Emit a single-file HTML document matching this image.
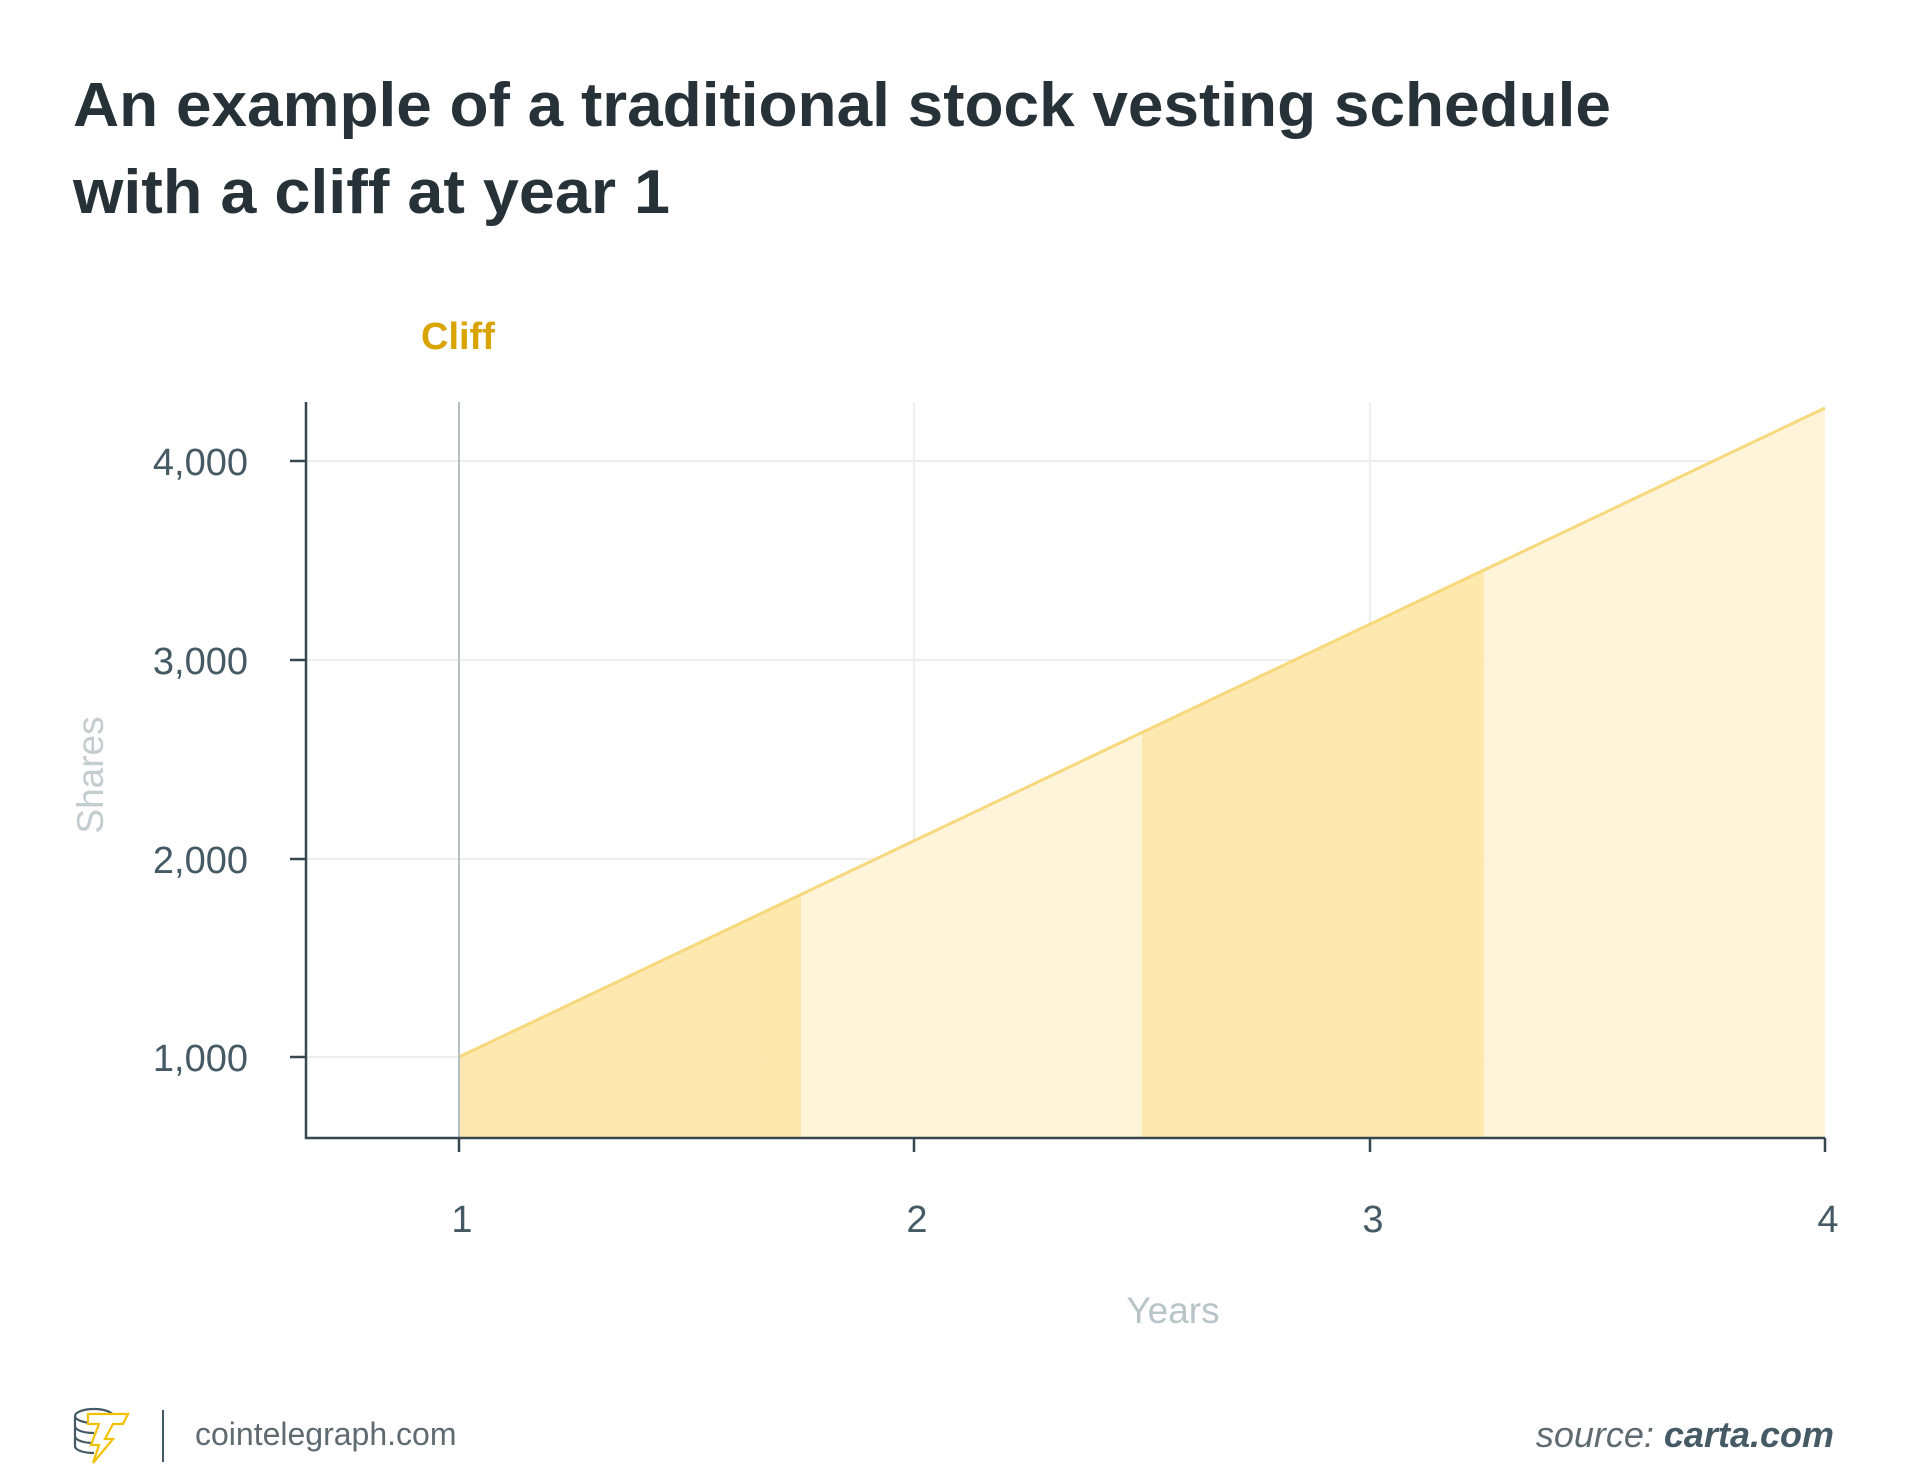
<!DOCTYPE html>
<html><head><meta charset="utf-8"><style>
html,body{margin:0;padding:0;background:#fff;width:1910px;height:1472px;overflow:hidden}
svg{display:block}
</style></head><body>
<svg width="1910" height="1472" viewBox="0 0 1910 1472" xmlns="http://www.w3.org/2000/svg" font-family="'Liberation Sans', sans-serif">
<text x="73" y="126" font-size="62" font-weight="bold" fill="#263238" textLength="1538" lengthAdjust="spacingAndGlyphs">An example of a traditional stock vesting schedule</text>
<text x="73" y="213" font-size="62" font-weight="bold" fill="#263238" textLength="597" lengthAdjust="spacingAndGlyphs">with a cliff at year 1</text>
<text x="421" y="349" font-size="38" font-weight="bold" fill="#d9a300">Cliff</text>
<g stroke="#eeeeee" stroke-width="2">
<line x1="306" y1="461" x2="1825" y2="461"/>
<line x1="306" y1="660" x2="1825" y2="660"/>
<line x1="306" y1="859" x2="1825" y2="859"/>
<line x1="306" y1="1057" x2="1825" y2="1057"/>
<line x1="914" y1="402" x2="914" y2="1138"/>
<line x1="1370" y1="402" x2="1370" y2="1138"/>
</g>
<defs><clipPath id="c"><polygon points="459,1057 1825,408 1825,1138 459,1138"/></clipPath></defs>
<g clip-path="url(#c)" opacity="0.9">
<rect x="459" y="400" width="342" height="740" fill="#fde6a6"/>
<rect x="801" y="400" width="341" height="740" fill="#fef3d5"/>
<rect x="1142" y="400" width="342" height="740" fill="#fde6a6"/>
<rect x="1484" y="400" width="341" height="740" fill="#fef3d5"/>
</g>
<line x1="459" y1="1057" x2="1825" y2="408" stroke="#f7d87c" stroke-width="3"/>
<line x1="459" y1="402" x2="459" y2="1138" stroke="#b6bfc1" stroke-width="2"/>
<g stroke="#37474f" stroke-width="2.5">
<line x1="306" y1="402" x2="306" y2="1139"/>
<line x1="305" y1="1138" x2="1825" y2="1138"/>
<line x1="290" y1="461" x2="306" y2="461"/>
<line x1="290" y1="660" x2="306" y2="660"/>
<line x1="290" y1="859" x2="306" y2="859"/>
<line x1="290" y1="1057" x2="306" y2="1057"/>
<line x1="459" y1="1138" x2="459" y2="1152"/>
<line x1="914" y1="1138" x2="914" y2="1152"/>
<line x1="1370" y1="1138" x2="1370" y2="1152"/>
<line x1="1825" y1="1138" x2="1825" y2="1152"/>
</g>
<g font-size="38" fill="#455a64" text-anchor="end">
<text x="248" y="475">4,000</text>
<text x="248" y="674">3,000</text>
<text x="248" y="873">2,000</text>
<text x="248" y="1071">1,000</text>
</g>
<g font-size="38" fill="#455a64" text-anchor="middle">
<text x="462" y="1232">1</text>
<text x="917" y="1232">2</text>
<text x="1373" y="1232">3</text>
<text x="1828" y="1232">4</text>
</g>
<text x="1173" y="1323" font-size="37" fill="#b8c4c8" text-anchor="middle">Years</text>
<text transform="translate(103,775) rotate(-90)" font-size="37" fill="#c3cdd0" text-anchor="middle">Shares</text>
<g fill="none" stroke="#455a64" stroke-width="2.2">
<ellipse cx="94" cy="1416" rx="19" ry="7"/>
<path d="M75 1416v30c0 4 8 7 19 7"/><path d="M75 1426c0 4 8 7 19 7M75 1436c0 4 8 7 19 7"/>
</g>
<path d="M88 1414h40l-5 10h-10l-8 15h8l-20 24 6-18h-8l8-21h-11z" fill="#fff" stroke="#f2c200" stroke-width="2.2"/>
<line x1="163" y1="1410" x2="163" y2="1462" stroke="#455a64" stroke-width="2"/>
<text x="195" y="1445" font-size="32" fill="#5f6b70">cointelegraph.com</text>
<text x="1834" y="1447" font-size="36" fill="#5f6b70" text-anchor="end"><tspan font-style="italic">source: </tspan><tspan font-style="italic" font-weight="bold" fill="#455a64">carta.com</tspan></text>
</svg>
</body></html>
